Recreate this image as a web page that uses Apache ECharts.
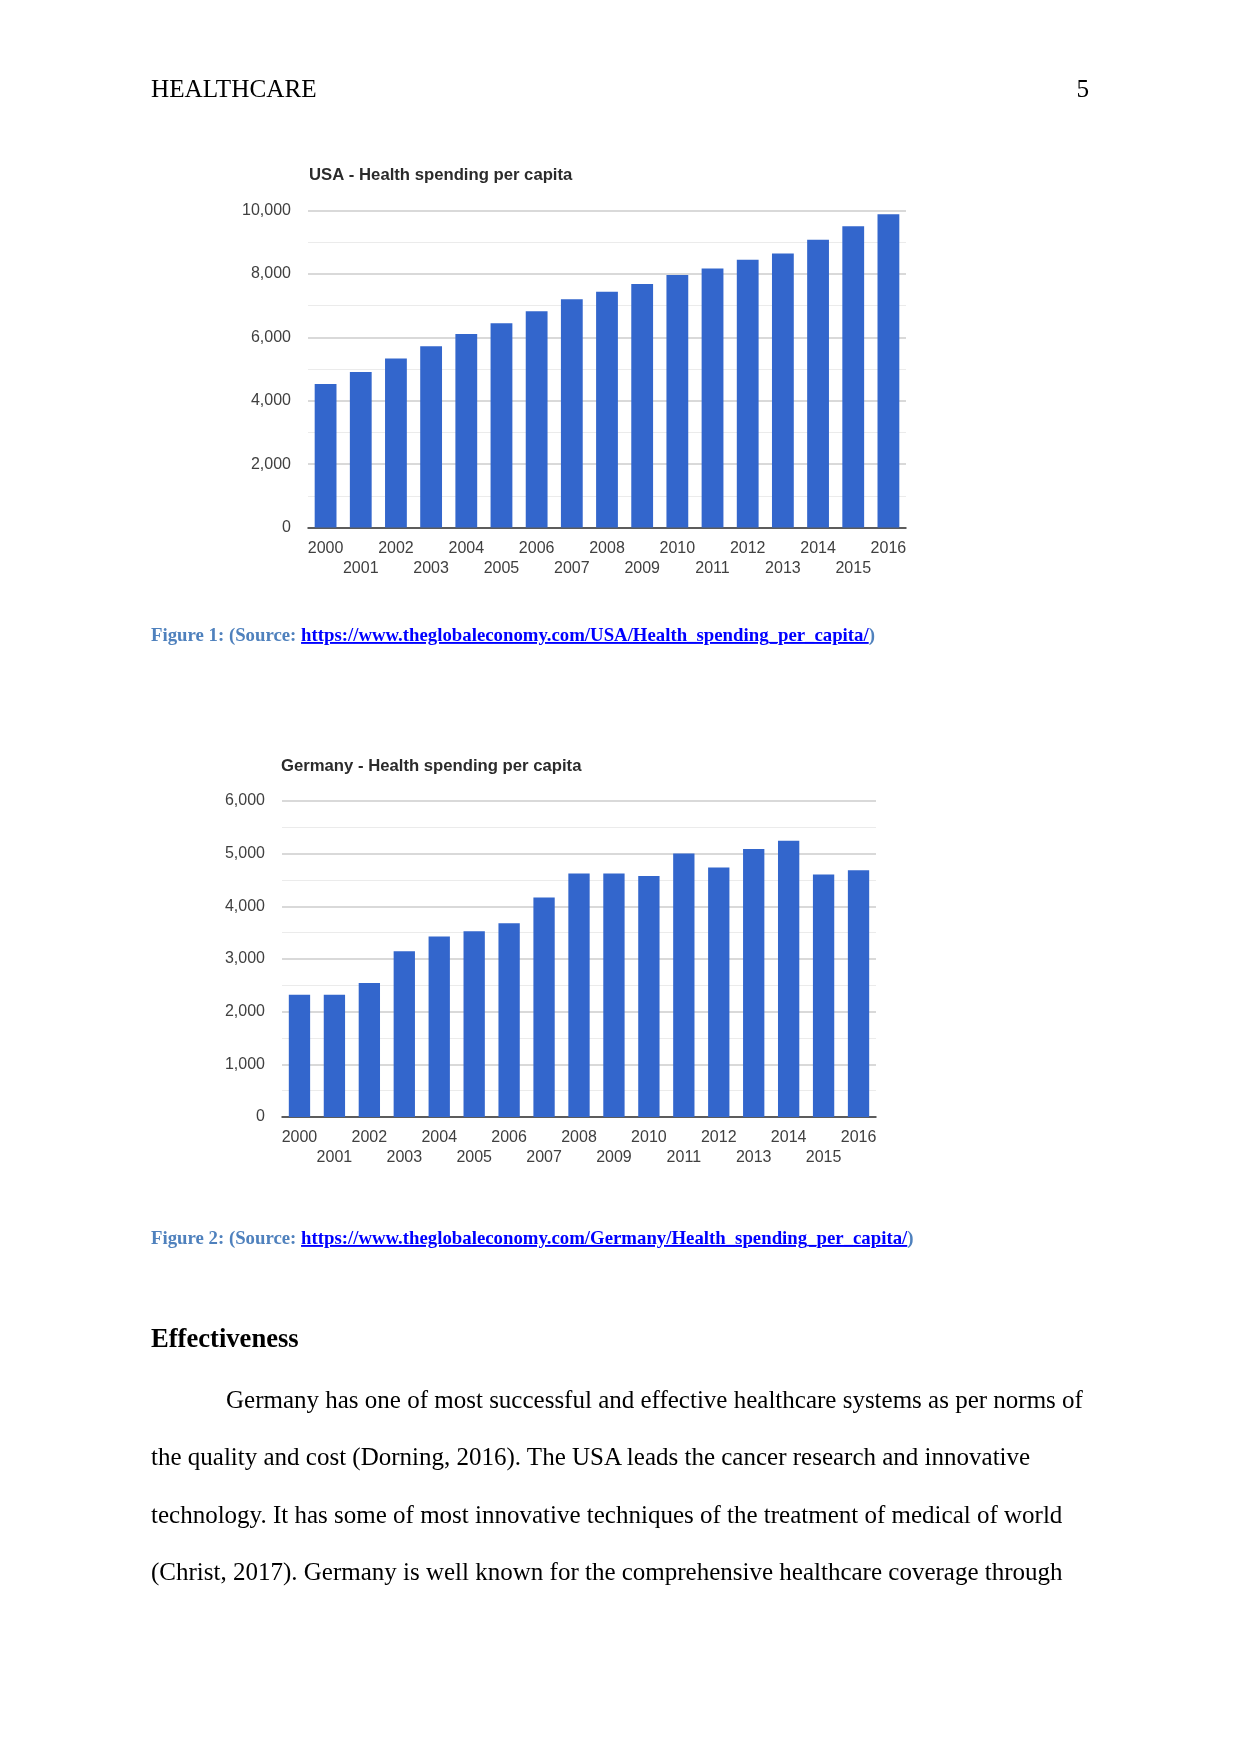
<!DOCTYPE html>
<html>
<head>
<meta charset="utf-8">
<script src="https://cdn.jsdelivr.net/npm/echarts@6/dist/echarts.min.js"></script>
<style>
  html, body { margin: 0; padding: 0; background: #ffffff; }
  #page { position: relative; width: 1241px; height: 1754px; background: #fff; overflow: hidden; }
  #chart { position: absolute; left: 0; top: 0; width: 1241px; height: 1754px; }
  #doc { position: absolute; left: 0; top: 0; pointer-events: none; }
  .serif { font-family: 'Liberation Serif', 'Times New Roman', serif; }
</style>
</head>
<body>
<div id="page">
  <div id="chart"></div>
  <svg id="doc" width="1241" height="1754" xmlns="http://www.w3.org/2000/svg">
    <g class="serif" fill="#000">
      <text x="151" y="97" font-size="25.2">HEALTHCARE</text>
      <text x="1089" y="97" font-size="25.2" text-anchor="end">5</text>

      <text x="151" y="641" font-size="18.8" font-weight="bold"><tspan fill="#4F81BD">Figure 1: (Source: </tspan><tspan fill="#0000FF" text-decoration="underline">https://www.theglobaleconomy.com/USA/Health_spending_per_capita/</tspan><tspan fill="#4F81BD">)</tspan></text>

      <text x="151" y="1244" font-size="18.8" font-weight="bold"><tspan fill="#4F81BD">Figure 2: (Source: </tspan><tspan fill="#0000FF" text-decoration="underline">https://www.theglobaleconomy.com/Germany/Health_spending_per_capita/</tspan><tspan fill="#4F81BD">)</tspan></text>

      <text x="151" y="1347" font-size="26.6" font-weight="bold">Effectiveness</text>
      <text x="226" y="1408" font-size="25">Germany has one of most successful and effective healthcare systems as per norms of</text>
      <text x="151" y="1465" font-size="25">the quality and cost (Dorning, 2016). The USA leads the cancer research and innovative</text>
      <text x="151" y="1523" font-size="25">technology. It has some of most innovative techniques of the treatment of medical of world</text>
      <text x="151" y="1580" font-size="25">(Christ, 2017). Germany is well known for the comprehensive healthcare coverage through</text>
    </g>
  </svg>
</div>
<script>
// ---- Data ----
const years = ['2000','2001','2002','2003','2004','2005','2006','2007','2008','2009','2010','2011','2012','2013','2014','2015','2016'];
const usaSpending = [4530, 4905, 5335, 5715, 6105, 6440, 6820, 7200, 7440, 7685, 7965, 8170, 8450, 8640, 9075, 9505, 9885];
const germanySpending = [2320, 2320, 2545, 3145, 3425, 3525, 3680, 4170, 4625, 4625, 4575, 5005, 4735, 5090, 5245, 4605, 4685];
const usaTitle = 'USA - Health spending per capita';
const germanyTitle = 'Germany - Health spending per capita';
const usaAxis = { min: 0, max: 10000, interval: 2000 };
const germanyAxis = { min: 0, max: 6000, interval: 1000 };

const barColor = '#3366CC';
const labelColor = '#404040';
const fontFam = 'Arial, "Liberation Sans", Helvetica, sans-serif';

function fmt(v) { return Number(v).toLocaleString('en-US'); }

function yAxisFor(gridIndex, ax) {
  return {
    type: 'value', gridIndex: gridIndex,
    min: ax.min, max: ax.max, interval: ax.interval,
    axisLine: { show: false }, axisTick: { show: false },
    axisLabel: { color: labelColor, fontSize: 16, fontFamily: fontFam, margin: 17, formatter: fmt },
    splitLine: { show: true, lineStyle: { color: '#cccccc', width: 1.5 } },
    minorTick: { show: false, splitNumber: 2 },
    minorSplitLine: { show: true, lineStyle: { color: '#ebebeb', width: 1 } }
  };
}
function xAxisFor(gridIndex) {
  return {
    type: 'category', gridIndex: gridIndex, data: years,
    axisTick: { show: false },
    axisLine: { lineStyle: { color: '#333333', width: 1.5 } },
    axisLabel: {
      interval: 0, color: labelColor, fontSize: 16, fontFamily: fontFam,
      margin: 11, lineHeight: 20,
      formatter: function (v, i) { return i % 2 ? '\n' + v : v; }
    }
  };
}

const chart = echarts.init(document.getElementById('chart'), null, { renderer: 'canvas', width: 1241, height: 1754 });
chart.setOption({
  backgroundColor: 'transparent',
  animation: false,
  title: [
    { text: usaTitle, left: 309, top: 167, padding: 0, textStyle: { fontSize: 16.7, fontWeight: 'bold', color: '#2b2b2b', fontFamily: fontFam } },
    { text: germanyTitle, left: 281, top: 758, padding: 0, textStyle: { fontSize: 16.7, fontWeight: 'bold', color: '#2b2b2b', fontFamily: fontFam } }
  ],
  grid: [
    { left: 308, top: 210.5, width: 598, height: 317, containLabel: false },
    { left: 282, top: 801, width: 594, height: 316, containLabel: false }
  ],
  xAxis: [xAxisFor(0), xAxisFor(1)],
  yAxis: [yAxisFor(0, usaAxis), yAxisFor(1, germanyAxis)],
  series: [
    { type: 'bar', xAxisIndex: 0, yAxisIndex: 0, data: usaSpending, barWidth: '62%', itemStyle: { color: barColor } },
    { type: 'bar', xAxisIndex: 1, yAxisIndex: 1, data: germanySpending, barWidth: '61%', itemStyle: { color: barColor } }
  ]
});
</script>
</body>
</html>
